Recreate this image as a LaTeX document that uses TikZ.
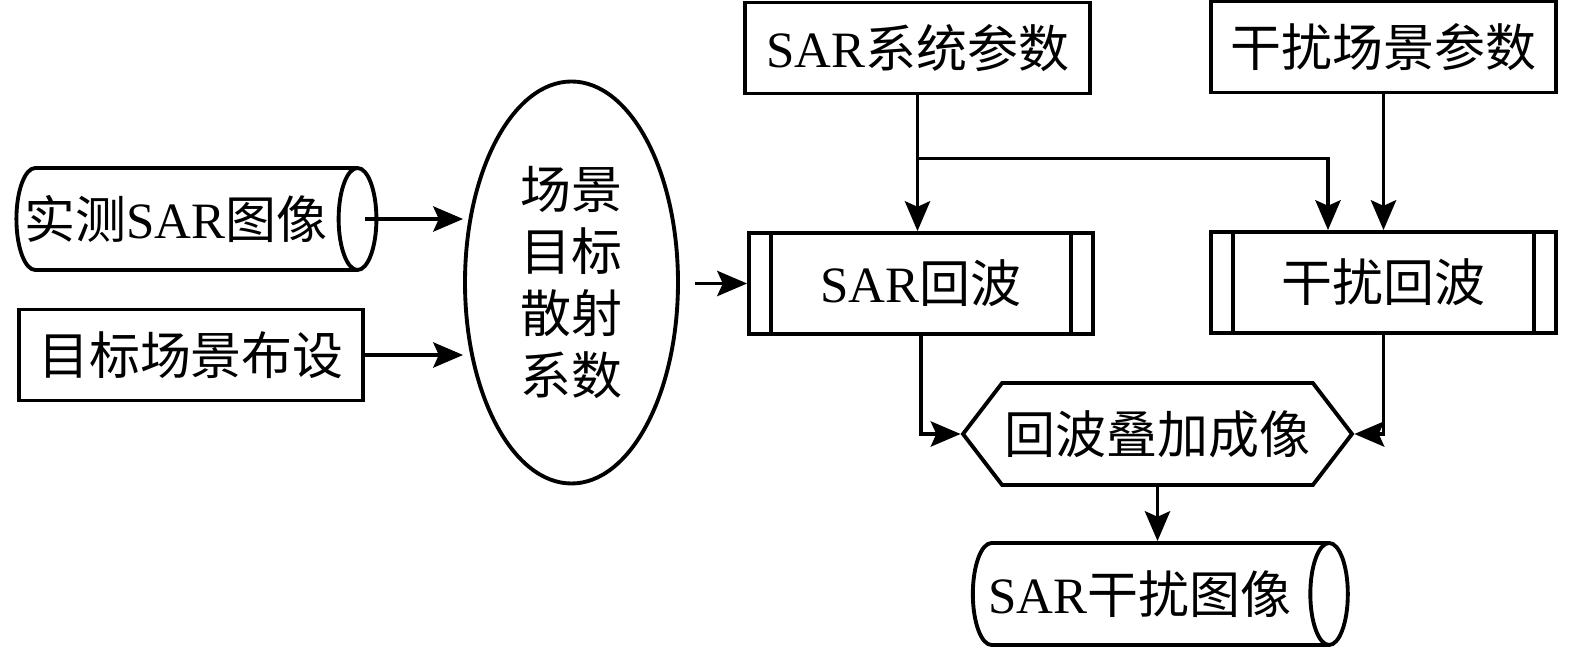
\documentclass[tikz,border=0pt]{standalone}
\usepackage{fontspec}
\setmainfont{Liberation Serif}
\newfontfamily\cjk{Noto Sans CJK SC}
\newcommand{\zh}[1]{{\cjk #1}}
\usetikzlibrary{shapes.geometric,shapes.symbols,arrows.meta,calc}

\begin{document}
\begin{tikzpicture}[
    line width=0.95pt,
    >={Stealth[length=8.5pt,width=7.2pt,inset=1.6pt]},
    every node/.style={font=\fontsize{14.5pt}{17.6pt}\selectfont,line width=1.1pt,inner sep=0pt},
    box/.style={draw,rectangle,minimum width=3.44cm,minimum height=0.91cm},
    proc/.style={box,minimum height=1.01cm,path picture={
        \draw[line width=1.1pt] ([xshift=0.22cm]path picture bounding box.north west)
          -- ([xshift=0.22cm]path picture bounding box.south west);
        \draw[line width=1.1pt] ([xshift=-0.22cm]path picture bounding box.north east)
          -- ([xshift=-0.22cm]path picture bounding box.south east);}},
    drum/.style={draw,cylinder,aspect=0.8,minimum width=1.02cm},
    hexa/.style={draw,signal,signal to=west and east,signal pointer angle=105,
      minimum width=3.89cm,minimum height=1.02cm}
  ]

  \useasboundingbox (0,0) rectangle (15.75,-6.47);

  \node[drum,minimum height=3.6cm] (img) at (1.86,-2.19) {\makebox[2.4cm]{\zh{实测}SAR\zh{图像}\hspace*{0.2cm}}};
  \node[box] (lay) at (1.91,-3.55) {\zh{目标场景布设}};
  \node[draw,ellipse,minimum width=2.13cm,minimum height=4.02cm,align=center] (scat)
    at (5.715,-2.825) {\zh{场景}\\\zh{目标}\\\zh{散射}\\\zh{系数}};

  \node[box,minimum width=3.45cm] (sys) at (9.175,-0.48) {SAR\zh{系统参数}};
  \node[box,minimum width=3.45cm] (jam) at (13.835,-0.47) {\zh{干扰场景参数}};
  \node[proc] (echo) at (9.21,-2.835) {SAR\zh{回波}};
  \node[proc,minimum width=3.45cm] (jecho) at (13.835,-2.825) {\zh{干扰回波}};

  \node[hexa] (sum) at (11.575,-4.34) {\zh{回波叠加成像}};
  \node[drum,minimum height=3.75cm] (out) at (11.50,-5.94) {\makebox[2.4cm]{SAR\zh{干扰图像}\hspace*{0.2cm}}};

  \draw[->] ([xshift=-0.13cm]img.east) -- (img.east -| scat.west);
  \draw[->] (lay.east) -- (lay.east -| scat.west);
  \draw[->] ($(scat.east |- echo.west)+(0.15,0)$) -- (echo.west);

  \draw[->] (sys.south) -- (sys.south |- echo.north);
  \coordinate (fork) at ($(sys.south)+(0,-0.63)$);
  \draw[->] (fork) -| ([xshift=-0.555cm]jecho.north);
  \draw[->] (jam.south) -- (jam.south |- jecho.north);

  \draw[->] (echo.south) |- (sum.west);
  \draw[->] (jecho.south) |- (sum.east);
  \draw[->] (sum.south) -- (sum.south |- out.north);

\end{tikzpicture}
\end{document}
